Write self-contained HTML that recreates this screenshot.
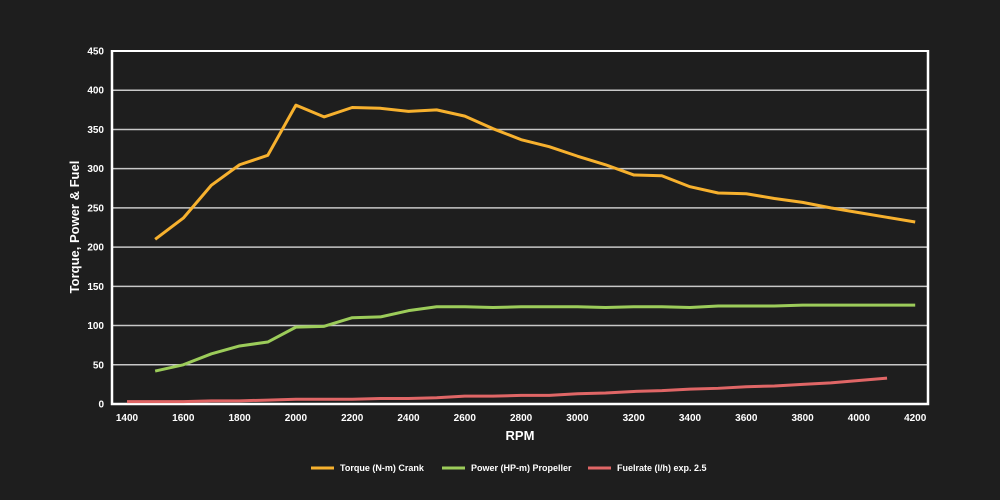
<!DOCTYPE html>
<html><head><meta charset="utf-8"><style>
html,body{margin:0;padding:0;background:#1e1e1e;}
svg{display:block;font-family:"Liberation Sans",sans-serif;font-weight:bold;}
</style></head><body>
<svg width="1000" height="500" viewBox="0 0 1000 500" xmlns="http://www.w3.org/2000/svg">
<rect width="1000" height="500" fill="#1e1e1e"/>
<g id="grid" stroke="#c8c8c8" stroke-width="1.5"></g>
<g id="yl" fill="#fff" font-size="10" text-anchor="end"></g>
<g id="xl" fill="#fff" font-size="10" text-anchor="middle"></g>
<line x1="112" y1="51" x2="928" y2="51" stroke="#fff" stroke-width="2"/>
<polyline points="112,50 112,404 928,404 928,50" fill="none" stroke="#fff" stroke-width="2.5"/>
<polyline id="fuel" fill="none" stroke="#e06666" stroke-width="3" stroke-linejoin="round"/>
<polyline id="pow" fill="none" stroke="#9ccc5a" stroke-width="3" stroke-linejoin="round"/>
<polyline id="tor" fill="none" stroke="#f7b12e" stroke-width="3" stroke-linejoin="round"/>
<text x="520" y="440" fill="#fff" font-size="13" text-anchor="middle">RPM</text>
<text transform="translate(79,227) rotate(-90)" fill="#fff" font-size="13" text-anchor="middle">Torque, Power &amp; Fuel</text>
<g font-size="9" fill="#fff">
<line x1="311" y1="468" x2="334" y2="468" stroke="#f7b12e" stroke-width="3"/><text x="340" y="471">Torque (N-m) Crank</text>
<line x1="442" y1="468" x2="465" y2="468" stroke="#9ccc5a" stroke-width="3"/><text x="471" y="471">Power (HP-m) Propeller</text>
<line x1="588" y1="468" x2="611" y2="468" stroke="#e06666" stroke-width="3"/><text x="617" y="471">Fuelrate (l/h) exp. 2.5</text>
</g>
</svg>
<script>
const X=r=>127+(r-1400)*0.2815, Y=v=>404-v*0.7844;
const ns="http://www.w3.org/2000/svg";
const g=document.getElementById('grid'),yl=document.getElementById('yl'),xl=document.getElementById('xl');
for(let v=50;v<=400;v+=50){const l=document.createElementNS(ns,'line');l.setAttribute('x1',112);l.setAttribute('x2',928);l.setAttribute('y1',Y(v));l.setAttribute('y2',Y(v));g.appendChild(l);}
for(let v=0;v<=450;v+=50){const t=document.createElementNS(ns,'text');t.setAttribute('x',104);t.setAttribute('y',Y(v)+3.5);t.textContent=v;yl.appendChild(t);}
for(let r=1400;r<=4200;r+=200){const t=document.createElementNS(ns,'text');t.setAttribute('x',X(r));t.setAttribute('y',421);t.textContent=r;xl.appendChild(t);}
const pts=(s,a)=>a.map((v,i)=>X(s+i*100)+','+Y(v)).join(' ');
document.getElementById('tor').setAttribute('points',pts(1500,[210,237,279,305,317,381,366,378,377,373,375,367,351,337,328,316,305,292,291,277,269,268,262,257,250,244,238,232]));
document.getElementById('pow').setAttribute('points',pts(1500,[42,50,64,74,79,98,99,110,111,119,124,124,123,124,124,124,123,124,124,123,125,125,125,126,126,126,126,126]));
document.getElementById('fuel').setAttribute('points',pts(1400,[3,3,3,4,4,5,6,6,6,7,7,8,10,10,11,11,13,14,16,17,19,20,22,23,25,27,30,33]));
</script>
</body></html>
